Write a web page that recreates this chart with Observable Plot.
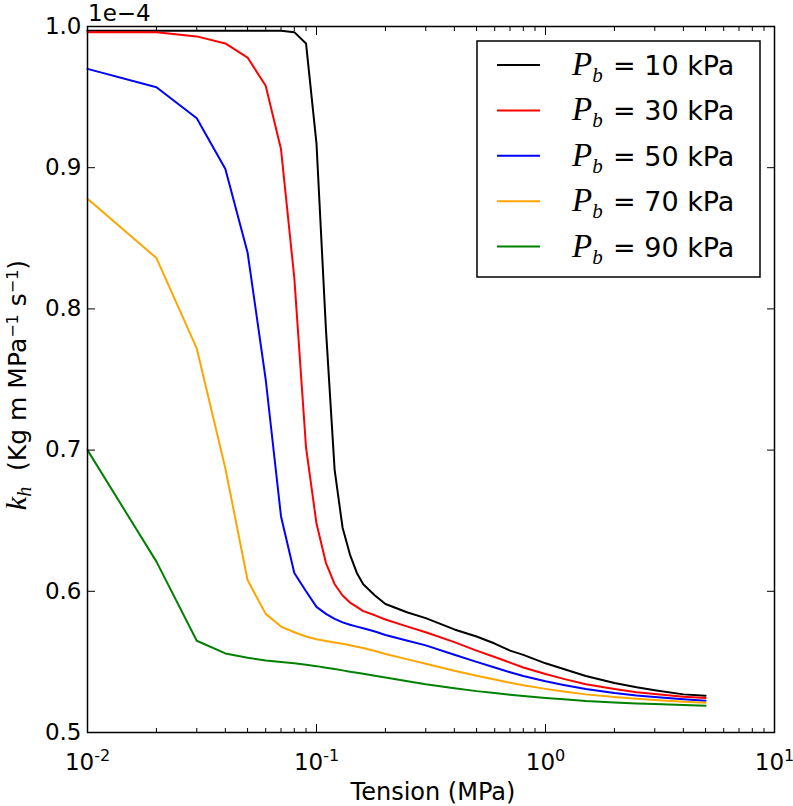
<!DOCTYPE html>
<html><head><meta charset="utf-8">
<script src="https://cdn.jsdelivr.net/npm/d3@7"></script>
<script src="https://cdn.jsdelivr.net/npm/@observablehq/plot@0.6"></script>
<style>html,body{margin:0;padding:0;background:#fff;} svg{display:block}</style>
</head><body><div id="chart"></div>
<script>
// Tension (MPa)
const tension = [0.01,0.02,0.03,0.04,0.05,0.06,0.07,0.08,0.09,0.1,0.11,0.12,0.13,0.14,0.15,0.16,0.18,0.2,0.25,0.3,0.4,0.5,0.6,0.7,0.8,1,1.2,1.5,2,2.5,3,4,5];
// k_h values (x 1e-4), one array per P_b
const kh10 = [0.997,0.997,0.997,0.997,0.997,0.997,0.997,0.996,0.988,0.917,0.785,0.686,0.645,0.626,0.613,0.605,0.597,0.591,0.585,0.581,0.573,0.568,0.563,0.558,0.555,0.549,0.545,0.540,0.535,0.532,0.530,0.527,0.526];
const kh30 = [0.996,0.996,0.993,0.988,0.978,0.958,0.913,0.822,0.702,0.648,0.620,0.605,0.597,0.592,0.589,0.586,0.583,0.580,0.575,0.571,0.564,0.558,0.5535,0.5495,0.546,0.5414,0.538,0.5342,0.5308,0.5285,0.5272,0.5253,0.5244];
const kh50 = [0.970,0.957,0.935,0.899,0.840,0.750,0.653,0.613,0.600,0.589,0.584,0.5805,0.578,0.5763,0.575,0.5738,0.5715,0.569,0.565,0.5617,0.5551,0.550,0.546,0.5427,0.540,0.5363,0.5337,0.5308,0.528,0.5262,0.5251,0.5236,0.5225];
const kh70 = [0.878,0.836,0.772,0.687,0.608,0.584,0.575,0.571,0.568,0.566,0.5648,0.5638,0.5628,0.5618,0.5608,0.5598,0.5577,0.5556,0.5518,0.5487,0.5438,0.5402,0.5375,0.5353,0.5334,0.5309,0.529,0.527,0.5252,0.5239,0.523,0.5217,0.5211];
const kh90 = [0.700,0.621,0.565,0.556,0.553,0.551,0.550,0.549,0.548,0.547,0.5459,0.5449,0.544,0.5431,0.5423,0.5416,0.5402,0.5389,0.5363,0.5342,0.5314,0.5293,0.5279,0.5268,0.5259,0.5245,0.5235,0.5223,0.5213,0.5206,0.5201,0.5194,0.519];

const seriesNames = ["10 kPa","30 kPa","50 kPa","70 kPa","90 kPa"];
const seriesValues = [kh10, kh30, kh50, kh70, kh90];
const seriesColors = ["#000000","#ff0000","#0000ff","#ffa500","#008000"];

const yTicks = [0.5,0.6,0.7,0.8,0.9,1.0];
const xMajor = [0.01,0.1,1,10];
const xMinor = [0.02,0.03,0.04,0.05,0.06,0.07,0.08,0.09,0.2,0.3,0.4,0.5,0.6,0.7,0.8,0.9,2,3,4,5,6,7,8,9];

const rows = seriesNames.flatMap((name, i) =>
  tension.map((t, j) => ({series: name, tension: t, kh: seriesValues[i][j]})));

const noText = {fill: "none", label: null};
const chart = Plot.plot({
  width: 793, height: 806,
  marginLeft: 87, marginRight: 19, marginTop: 26, marginBottom: 74,
  style: {fontFamily: "'DejaVu Sans', sans-serif", fontSize: "23px", color: "black", background: "white"},
  x: {type: "log", domain: [0.01, 10]},
  y: {domain: [0.5, 1.0]},
  color: {domain: seriesNames, range: seriesColors},
  marks: [
    Plot.line(rows, {x: "tension", y: "kh", z: "series", stroke: "series", strokeWidth: 2}),
    Plot.axisY(yTicks, {anchor: "left", tickSize: 0, tickPadding: 6, tickFormat: d => d.toFixed(1), label: null}),
    Plot.axisY(yTicks, {anchor: "left", tickSize: 8, dx: 8, ...noText}),
    Plot.axisY(yTicks, {anchor: "right", tickSize: 8, dx: -8, ...noText}),
    Plot.axisX(xMajor, {anchor: "bottom", tickSize: 8, dy: -8, ...noText}),
    Plot.axisX(xMajor, {anchor: "top", tickSize: 8, dy: 8, ...noText}),
    Plot.axisX(xMinor, {anchor: "bottom", tickSize: 4, dy: -4, ...noText}),
    Plot.axisX(xMinor, {anchor: "top", tickSize: 4, dy: 4, ...noText}),
    Plot.axisX(xMajor, {anchor: "bottom", tickSize: 0, tickPadding: 21, tickFormat: d => String(Math.round(Math.log10(d))), label: null}),
    Plot.frame({stroke: "black", strokeWidth: 1.5})
  ]
});
document.getElementById("chart").appendChild(chart);

const svg = d3.select(chart);
// superscript exponent labels
svg.selectAll('g[aria-label="x-axis tick label"] text').each(function() {
  const s = this.textContent;
  if (!s) return;
  const t = d3.select(this);
  t.text(null);
  t.append("tspan").text("10");
  t.append("tspan").attr("dy", "-9").attr("font-size", "16px").text(s);
});

// offset text
svg.append("text").attr("x", 88).attr("y", 21).attr("text-anchor", "start").attr("font-size", 23).attr("fill", "black").text("1e\u22124");

// x label
svg.append("text").attr("x", 433).attr("y", 800).attr("text-anchor", "middle").attr("font-size", 24).attr("fill", "black").text("Tension (MPa)");

// y label
const yl = svg.append("text").attr("transform", "translate(26,385) rotate(-90)").attr("text-anchor", "middle").attr("font-size", 25).attr("fill", "black");
yl.append("tspan").attr("font-family", "'Liberation Serif', serif").attr("font-style", "italic").attr("font-size", 30).text("k");
yl.append("tspan").attr("font-family", "'Liberation Serif', serif").attr("font-style", "italic").attr("font-size", 20).attr("dy", 5).text("h");
yl.append("tspan").attr("dy", -5).text("\u00a0 (Kg m MPa");
yl.append("tspan").attr("dy", -8).attr("font-size", 16).text("\u22121");
yl.append("tspan").attr("dy", 8).text(" s");
yl.append("tspan").attr("dy", -8).attr("font-size", 16).text("\u22121");
yl.append("tspan").attr("dy", 8).text(")");

// legend
const lg = svg.append("g").attr("aria-label", "legend").attr("text-anchor", "start");
lg.append("rect").attr("x", 477).attr("y", 41).attr("width", 283).attr("height", 236)
  .attr("fill", "white").attr("stroke", "black").attr("stroke-width", 1.5);
seriesNames.forEach((n, i) => {
  const y = 65 + i * 45.4;
  lg.append("line").attr("x1", 497).attr("x2", 540).attr("y1", y).attr("y2", y)
    .attr("stroke", seriesColors[i]).attr("stroke-width", 2);
  const t = lg.append("text").attr("x", 572).attr("y", y + 10).attr("font-size", 27).attr("fill", "black");
  t.append("tspan").attr("font-family", "'Liberation Serif', serif").attr("font-style", "italic").attr("font-size", 33).text("P");
  t.append("tspan").attr("font-family", "'Liberation Serif', serif").attr("font-style", "italic").attr("font-size", 21).attr("dy", 7).text("b");
  t.append("tspan").attr("x", 613).attr("dy", -7).text("= " + n);
});
</script>
</body></html>
